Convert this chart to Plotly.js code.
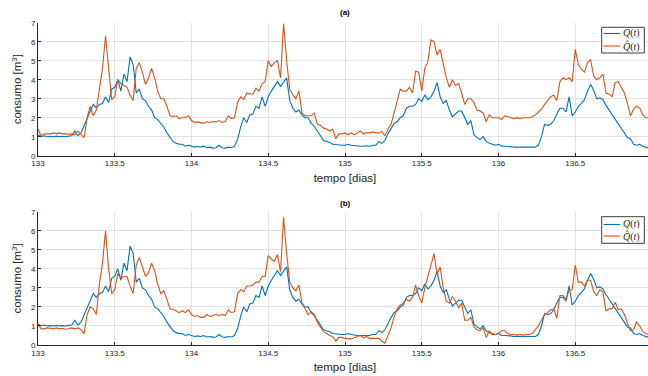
<!DOCTYPE html>
<html>
<head>
<meta charset="utf-8">
<script src="https://cdn.plot.ly/plotly-3.0.1.min.js"></script>
<style>
html,body{margin:0;padding:0;overflow:hidden;background:#ffffff;}
#chart{width:653px;height:376px;}
</style>
</head>
<body>
<div id="chart"></div>
<script>
// sample times: start day and step (days)
const tStart = 133;
const tStep = 0.02;

// Q(t): measured consumption (same in both panels)
const Q = [
1.1,1.0,1.05,1.0,1.02,1.0,1.03,1.0,1.02,1.0,
1.03,1.05,1.3,1.05,1.2,1.6,2.0,2.3,2.7,2.5,
2.7,2.75,3.1,2.8,3.5,3.6,4.0,3.4,4.3,3.9,
5.2,4.8,3.3,3.5,3.0,2.9,2.6,2.4,2.0,1.9,
1.7,1.5,1.2,1.0,0.75,0.65,0.6,0.6,0.5,0.55,
0.5,0.45,0.48,0.45,0.5,0.42,0.45,0.4,0.42,0.55,
0.42,0.4,0.45,0.42,0.5,0.85,1.5,2.0,1.75,2.15,
2.2,2.6,2.5,3.1,2.6,3.1,3.4,3.65,3.9,3.65,
3.85,4.1,2.9,2.5,2.3,2.4,2.15,2.0,2.0,1.7,
1.55,1.3,1.0,0.8,0.75,0.7,0.6,0.58,0.55,0.55,
0.55,0.6,0.55,0.52,0.5,0.5,0.5,0.52,0.5,0.55,
0.55,0.75,0.65,0.8,1.15,1.45,1.7,1.8,2.0,2.1,
2.5,2.6,2.6,2.7,3.0,2.85,3.2,2.95,3.1,3.4,
3.85,3.1,2.75,2.9,2.4,2.05,2.2,2.35,2.35,1.95,
1.65,1.85,1.1,0.95,0.85,1.0,0.75,0.65,0.6,0.55,
0.6,0.5,0.5,0.5,0.48,0.45,0.45,0.45,0.45,0.45,
0.45,0.45,0.45,0.55,1.0,1.65,1.6,1.65,1.85,2.2,
2.5,2.5,2.3,3.1,2.1,2.3,2.6,2.75,2.95,3.4,
3.75,3.45,3.0,3.05,2.95,2.65,2.4,2.15,1.95,1.7,
1.45,1.2,0.95,0.9,0.6,0.55,0.6,0.5,0.45,0.4
];

// Q-hat(t), panel (a)
const QhatA = [
1.4,1.05,1.15,1.15,1.15,1.2,1.15,1.2,1.15,1.15,
1.13,1.15,1.1,1.3,1.15,0.95,2.0,2.6,2.1,2.4,
3.5,4.6,6.3,4.45,2.95,3.1,4.0,3.8,3.7,3.6,
3.2,2.9,4.6,4.9,4.4,3.75,4.1,4.6,4.1,3.4,
3.0,3.0,2.6,2.1,2.05,2.1,1.95,2.0,2.0,2.1,
1.85,1.75,1.78,1.75,1.7,1.8,1.75,1.8,1.78,1.85,
1.75,1.8,2.1,1.95,2.0,2.8,3.1,2.95,3.3,3.25,
3.25,3.55,3.4,3.8,3.9,5.0,4.7,4.9,5.0,4.1,
6.95,5.0,3.5,3.2,3.0,3.4,2.25,2.1,2.1,2.1,
2.25,1.65,1.6,1.45,1.4,1.3,1.4,0.9,1.15,1.15,
1.2,1.1,1.2,1.1,1.2,1.3,1.15,1.2,1.2,1.25,
1.2,1.2,1.28,1.05,1.4,1.65,2.25,2.95,3.5,3.4,
3.4,3.6,3.3,4.45,4.4,3.4,4.6,4.95,6.1,6.0,
5.3,5.6,4.8,4.1,3.6,4.0,3.7,3.8,3.3,2.7,
3.0,3.0,2.8,2.4,2.35,2.25,1.8,2.15,2.0,2.0,
2.0,1.9,2.1,2.05,2.0,1.95,2.0,1.95,2.0,2.0,
2.0,2.05,2.15,2.3,2.45,2.7,2.9,3.1,3.2,2.9,
3.9,4.1,4.0,4.1,3.9,5.6,4.8,4.55,4.4,4.9,
5.05,4.2,4.0,4.1,4.3,3.3,3.25,3.1,3.85,3.9,
3.6,3.3,2.75,2.1,2.45,2.6,2.5,2.15,2.0,2.0
];

// Q-hat(t), panel (b)
const QhatB = [
1.1,0.85,0.85,0.9,0.88,0.85,0.9,0.85,0.88,0.83,
0.85,0.9,0.85,0.9,0.8,0.6,1.6,2.0,1.9,1.6,
3.2,4.3,6.0,4.0,2.7,2.9,3.75,3.5,3.6,3.6,
3.1,2.7,4.2,4.6,4.1,3.6,3.8,4.3,3.9,3.2,
2.7,2.85,2.4,1.9,1.85,1.8,1.7,1.8,1.7,1.85,
1.6,1.5,1.55,1.45,1.45,1.6,1.5,1.55,1.6,1.55,
1.6,1.55,1.85,1.7,1.75,2.7,2.9,2.8,3.1,3.1,
3.15,3.3,3.3,3.6,3.6,4.7,4.5,4.4,4.75,3.85,
6.7,4.8,3.3,3.0,2.85,3.15,2.2,1.9,1.6,1.75,
1.6,1.2,0.95,0.7,0.6,0.5,0.45,0.2,0.4,0.4,
0.35,0.35,0.32,0.38,0.45,0.5,0.38,0.45,0.35,0.35,
0.32,0.35,0.2,0.1,0.5,0.9,1.5,1.9,2.1,2.2,
2.4,2.3,2.5,3.15,2.6,2.2,3.0,3.55,4.2,4.8,
3.7,4.1,3.0,2.3,2.2,2.55,2.3,1.95,2.2,1.3,
1.3,1.45,0.95,0.8,0.75,0.9,0.4,0.75,0.55,0.55,
0.6,0.75,0.75,0.6,0.55,0.55,0.52,0.55,0.52,0.55,
0.55,0.6,0.8,1.0,1.3,1.6,1.7,1.85,1.9,1.4,
2.6,2.6,2.4,2.9,2.9,4.2,3.3,3.3,3.1,3.4,
3.4,2.8,2.6,2.9,2.8,1.8,1.9,1.9,2.25,1.85,
1.9,1.6,1.15,0.75,0.8,1.2,1.0,0.7,0.6,0.55
];

const xTickVals = [133,133.5,134,134.5,135,135.5,136,136.5,137];
const yTickVals = [0,1,2,3,4,5,6,7];
const seriesNames = ['<i>Q</i>(<i>t</i>)', '<i>Q\u0302</i>(<i>t</i>)'];
const panelTitles = ['<b>(a)</b>', '<b>(b)</b>'];

const t = Q.map((_, i) => +(tStart + i * tStep).toFixed(2));

const blue = '#0072BD', orange = '#D95319';
const colors = [blue, orange];
const ink = '#262626', grid = '#e2e2e2';
const sans = 'Liberation Sans, Arial, sans-serif';
const serif = 'Liberation Serif, DejaVu Serif, serif';

function xAxis(anchor) {
  return {
    anchor: anchor, domain: [0, 1], range: [133, 137],
    tickvals: xTickVals, ticks: 'inside', ticklen: 3, tickwidth: 1, tickcolor: ink,
    showline: true, linecolor: ink, linewidth: 1, mirror: false,
    showgrid: true, gridcolor: grid, gridwidth: 1, zeroline: false,
    tickfont: {family: sans, size: 8, color: ink},
    title: {text: 'tempo [dias]', font: {family: sans, size: 11.5, color: ink}, standoff: 6},
    automargin: false
  };
}
function yAxis(anchor, dom) {
  return {
    anchor: anchor, domain: dom, range: [0, 7],
    tickvals: yTickVals, ticks: 'inside', ticklen: 3, tickwidth: 1, tickcolor: ink,
    showline: true, linecolor: ink, linewidth: 1, mirror: false,
    showgrid: true, gridcolor: grid, gridwidth: 1, zeroline: false,
    tickfont: {family: sans, size: 8, color: ink},
    title: {text: 'consumo [m<sup>3</sup>]', font: {family: sans, size: 11.5, color: ink}, standoff: 6},
    automargin: false
  };
}

const line = (c) => ({color: c, width: 1.1});

const data = [
  {x: t, y: Q, xaxis: 'x', yaxis: 'y', type: 'scatter', mode: 'lines', name: seriesNames[0], line: line(blue), showlegend: false},
  {x: t, y: QhatA, xaxis: 'x', yaxis: 'y', type: 'scatter', mode: 'lines', name: seriesNames[1], line: line(orange), showlegend: false},
  {x: t, y: Q, xaxis: 'x2', yaxis: 'y2', type: 'scatter', mode: 'lines', name: seriesNames[0], line: line(blue), showlegend: false},
  {x: t, y: QhatB, xaxis: 'x2', yaxis: 'y2', type: 'scatter', mode: 'lines', name: seriesNames[1], line: line(orange), showlegend: false}
];

// legend boxes drawn in paper coordinates (one per panel)
const W = 653, H = 376, L = 38, PW = 614;
const px = (v) => (v - L) / PW;
const py = (v) => 1 - v / H;
const legendBoxes = [
  {top: 27.3, bottom: 53, rows: [33.5, 46]},
  {top: 216.7, bottom: 243.3, rows: [224.5, 236]}
];
const shapes = [];
const annotations = [];
legendBoxes.forEach((b) => {
  shapes.push({type: 'rect', xref: 'paper', yref: 'paper', x0: px(601.7), x1: px(644.3), y0: py(b.bottom), y1: py(b.top),
    line: {color: ink, width: 0.9}, fillcolor: '#ffffff', layer: 'above'});
  b.rows.forEach((r, i) => {
    shapes.push({type: 'line', xref: 'paper', yref: 'paper', x0: px(603.5), x1: px(620), y0: py(r), y1: py(r),
      line: {color: colors[i], width: 1.1}, layer: 'above'});
    annotations.push({text: seriesNames[i], xref: 'paper', yref: 'paper', x: px(621), y: py(r), xanchor: 'left', yanchor: 'middle',
      showarrow: false, font: {family: serif, size: 10, color: ink}});
  });
});
annotations.push(
  {text: panelTitles[0], xref: 'paper', yref: 'paper', x: 0.5, y: py(13), xanchor: 'center', yanchor: 'middle', showarrow: false, font: {family: sans, size: 8, color: '#000'}},
  {text: panelTitles[1], xref: 'paper', yref: 'paper', x: 0.5, y: py(203), xanchor: 'center', yanchor: 'middle', showarrow: false, font: {family: sans, size: 8, color: '#000'}}
);

const layout = {
  width: W, height: H,
  margin: {l: L, r: 1, t: 0, b: 0},
  paper_bgcolor: '#ffffff', plot_bgcolor: '#ffffff',
  showlegend: false,
  xaxis: xAxis('y'),
  yaxis: yAxis('x', [0.5859, 0.9396]),
  xaxis2: xAxis('y2'),
  yaxis2: yAxis('x2', [0.0824, 0.437]),
  shapes: shapes,
  annotations: annotations
};

Plotly.newPlot('chart', data, layout, {displayModeBar: false, responsive: false, staticPlot: true});
</script>
</body>
</html>
